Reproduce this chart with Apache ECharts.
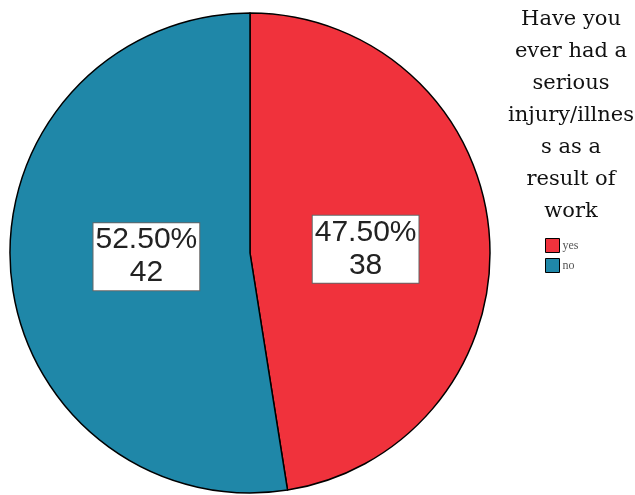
<!DOCTYPE html>
<html>
<head>
<meta charset="utf-8">
<script src="https://cdn.jsdelivr.net/npm/echarts@6/dist/echarts.min.js"></script>
<style>
  html, body { margin: 0; padding: 0; background: #fff; }
  #chart { width: 635px; height: 495px; }
</style>
</head>
<body>
<div id="chart"></div>
<script>
var categories = ['yes', 'no'];
var counts = [38, 42];
var percents = ['47.50%', '52.50%'];
var colors = ['#F0323C', '#1F87A8'];

var titleText = 'Have you\never had a\nserious\ninjury/illnes\ns as a\nresult of\nwork';

function initChart() {
    var chart = echarts.init(document.getElementById('chart'));
    // SPSS doesn't put the labels exactly on the mid angle, nudge them
    var nudge = [[-7, 6], [19, -6]];
    var data = [];
    for (var i = 0; i < categories.length; i++) {
        data.push({
            name: categories[i],
            value: counts[i],
            itemStyle: { color: colors[i] },
            label: { offset: nudge[i] }
        });
    }
    var option = {
        animation: false,
        title: {
            text: titleText,
            left: 566,
            top: -1,
            textAlign: 'center',
            textStyle: {
                color: '#111',
                fontFamily: 'DejaVu Serif',
                fontWeight: 'normal',
                fontSize: 21,
                lineHeight: 32
            }
        },
        legend: {
            orient: 'vertical',
            left: 540,
            top: 233,
            itemWidth: 14,
            itemHeight: 14,
            itemGap: 5,
            icon: 'rect',
            itemStyle: { borderColor: '#000', borderWidth: 1 },
            textStyle: {
                color: '#555',
                fontFamily: 'Liberation Serif',
                fontSize: 12,
                padding: [0, 0, 0, -2]
            },
            data: categories
        },
        series: [{
            type: 'pie',
            center: [250, 253],
            radius: 240,
            startAngle: 90,
            clockwise: true,
            silent: true,
            itemStyle: { borderColor: '#000', borderWidth: 1.5 },
            label: {
                show: true,
                position: 'inside',
                formatter: function (p) {
                    return percents[p.dataIndex] + '\n' + p.value;
                },
                color: '#222',
                fontFamily: 'Liberation Sans',
                fontSize: 30,
                lineHeight: 33,
                backgroundColor: '#fff',
                borderColor: '#666',
                borderWidth: 1,
                padding: [1, 2, 0, 2]
            },
            labelLine: { show: false },
            data: data
        }]
    };
    chart.setOption(option);
}
initChart();
</script>
</body>
</html>
